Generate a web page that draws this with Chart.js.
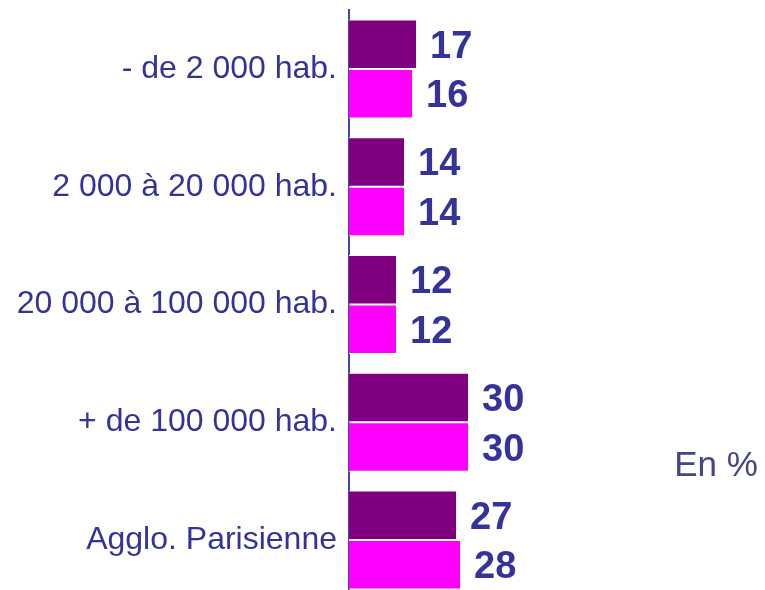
<!DOCTYPE html>
<html>
<head>
    <title>Taille d'agglomération</title>
    <style>
        body {
            margin: 0;
            overflow: hidden;
            background: #ffffff;
        }
        #wrap {
            width: 765px;
            height: 600px;
        }
    </style>
</head>
<body>
    <div id="wrap">
        <canvas id="chart" width="765" height="600"></canvas>
    </div>
    <script src="https://cdn.jsdelivr.net/npm/chart.js"></script>
    <script>
        const categories = ['- de 2 000 hab.', '2 000 à 20 000 hab.', '20 000 à 100 000 hab.', '+ de 100 000 hab.', 'Agglo. Parisienne'];
        const serieA = [17, 14, 12, 30, 27];
        const serieB = [16, 14, 12, 30, 28];
        const unitLabel = 'En %';

        const textColor = '#333399';

        // writes the value at the end of each bar + the "En %" note
        const valueLabels = {
            id: 'valueLabels',
            afterDatasetsDraw(chart) {
                const ctx = chart.ctx;
                ctx.save();
                ctx.fillStyle = textColor;
                ctx.font = 'bold 38px "Liberation Sans", Arial, sans-serif';
                ctx.textAlign = 'left';
                ctx.textBaseline = 'middle';
                chart.data.datasets.forEach((ds, i) => {
                    chart.getDatasetMeta(i).data.forEach((bar, j) => {
                        ctx.fillText(ds.data[j], bar.x + 13, bar.y + 3);
                    });
                });
                ctx.fillStyle = '#444488';
                ctx.font = '35px "Liberation Sans", Arial, sans-serif';
                ctx.textAlign = 'center';
                ctx.fillText(unitLabel, 716, 466);
                ctx.restore();
            }
        };

        new Chart(document.getElementById('chart'), {
            type: 'bar',
            data: {
                labels: categories,
                datasets: [{
                    data: serieA,
                    backgroundColor: '#800080',
                    borderColor: '#ffffff',
                    borderWidth: 1,
                    borderSkipped: 'left',
                    categoryPercentage: 0.84,
                    barPercentage: 1
                }, {
                    data: serieB,
                    backgroundColor: '#ff00ff',
                    borderColor: '#ffffff',
                    borderWidth: 1,
                    borderSkipped: 'left',
                    categoryPercentage: 0.84,
                    barPercentage: 1
                }]
            },
            options: {
                indexAxis: 'y',
                responsive: false,
                animation: false,
                layout: { padding: { top: 10, right: 16, bottom: 1, left: 0 } },
                plugins: {
                    legend: { display: false },
                    tooltip: { enabled: false }
                },
                scales: {
                    x: { display: false, min: 0, max: 100 },
                    y: {
                        grid: { display: false, drawTicks: false },
                        border: { display: true, color: '#4444aa', width: 2 },
                        ticks: {
                            color: textColor,
                            padding: 12,
                            font: { family: '"Liberation Sans", Arial, sans-serif', size: 32 }
                        },
                        afterFit(scale) {
                            scale.width = 349;
                            scale.paddingTop = 0;
                            scale.paddingBottom = 0;
                        }
                    }
                }
            },
            plugins: [valueLabels]
        });
    </script>
</body>
</html>
